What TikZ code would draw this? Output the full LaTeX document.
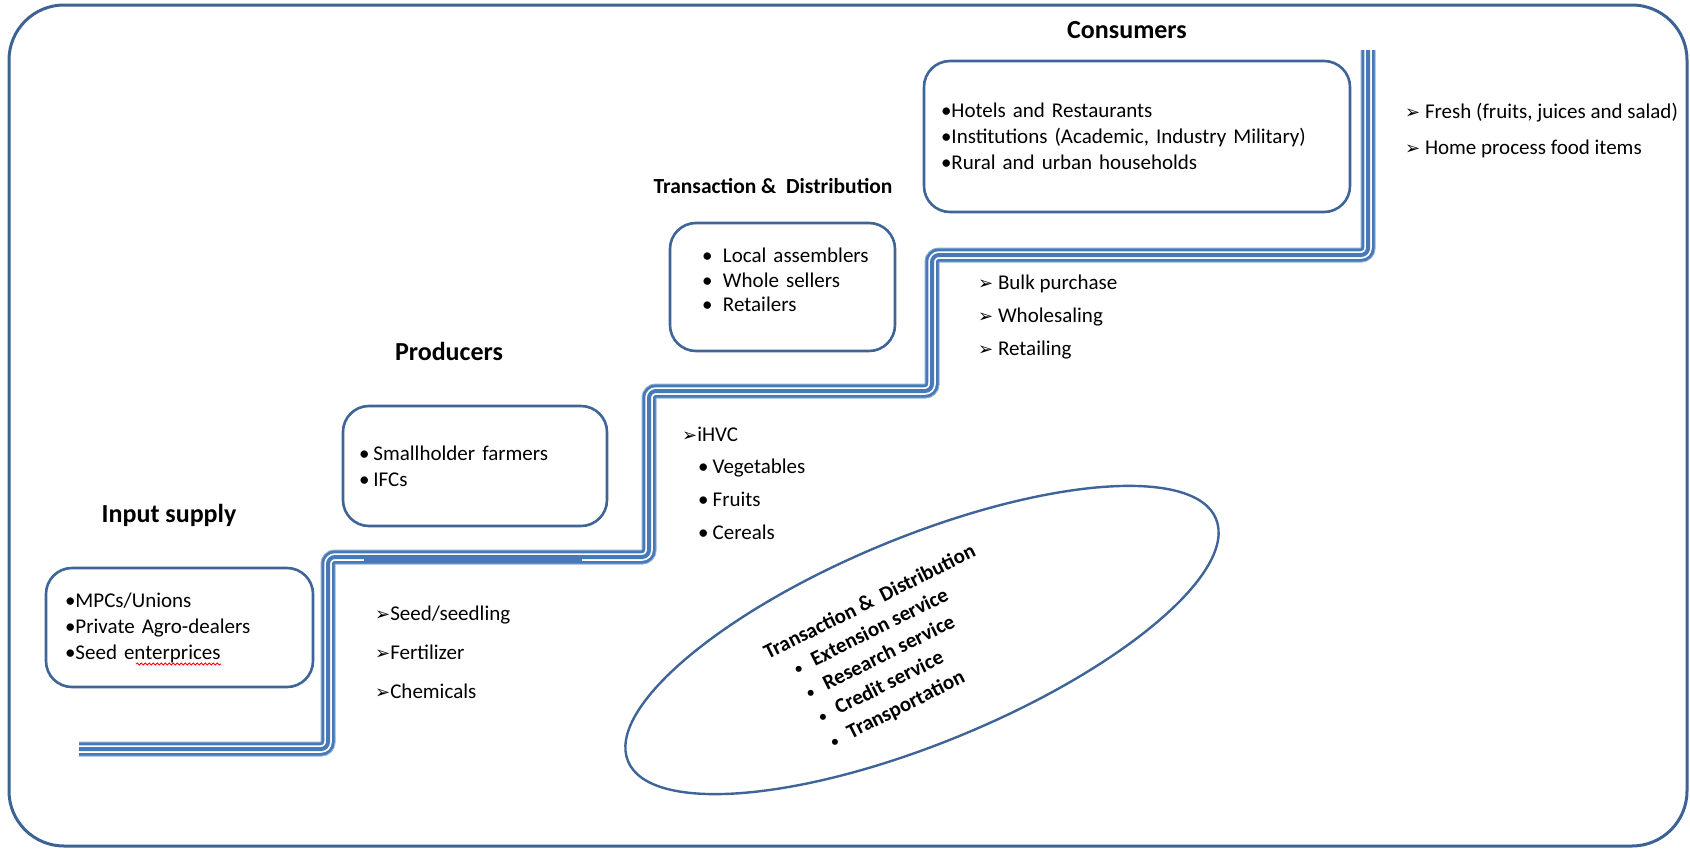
\documentclass[tikz,border=0pt]{standalone}
\usepackage{fontspec}
\setmainfont{Carlito}
\newfontfamily\dingfont{DejaVu Sans}
\usetikzlibrary{shapes.geometric,decorations.pathmorphing}
\definecolor{frameblue}{HTML}{3D6294}
\definecolor{boxblue}{HTML}{3F6497}
\definecolor{railblue}{HTML}{4779B8}
\definecolor{raillight}{HTML}{8FAED8}
% small arrowhead used in front of the list items
\newcommand{\tip}{{\dingfont\fontsize{18}{18}\selectfont ➢}}
\newcommand{\svcdot}{{\mdseries\fontsize{17}{17}\selectfont•}}
\begin{document}
\begin{tikzpicture}[x=1pt,y=-1pt,
  body/.style={font=\fontsize{21}{26}\selectfont},
  heading/.style={font=\fontsize{26}{30}\selectfont\bfseries, anchor=base, inner sep=0pt},
  card/.style={draw=boxblue, line width=2.6pt, rounded corners=26pt, align=left, body},
  rail/.style={line width=15pt, draw=raillight, rounded corners=7pt,
     postaction={draw=railblue, line width=13pt},
     postaction={draw=white, line width=7.5pt},
     postaction={draw=railblue, line width=4pt}},
  list/.style={body, align=left, anchor=west, inner sep=0pt},
]
\useasboundingbox (0,0) rectangle (1690,849);

% outer frame
\draw[frameblue, line width=3pt, rounded corners=55pt] (9,5) rectangle (1687,846);

% the staircase
\draw[rail] (79,749) -- (328,749) -- (328,557) -- (649,557) -- (649,391)
  -- (932,391) -- (932,255) -- (1368,255) -- (1368,50);
\draw[railblue, line width=4pt] (364,560) -- (582,560);

% stage boxes
\node[card, text width=229pt, inner xsep=19pt, minimum height=119pt] (inp) at (179.5,627.5)
  {•MPCs/Unions\\•Private Agro-dealers\\•Seed enterprices};
\node[card, text width=232pt, inner xsep=16pt, minimum height=120pt] (prod) at (475,466)
  {•\hspace{4pt}Smallholder farmers\\•\hspace{4pt}IFCs};
\node[card, minimum width=225pt, minimum height=128pt] (trade) at (782.5,287) {};
\node[list, anchor=center, font=\fontsize{21}{24.5}\selectfont, text width=201pt, yshift=7pt]
  (tradetext) at (trade.center)
  {\hspace*{20pt}\makebox[21pt][l]{•}Local assemblers\\\hspace*{20pt}\makebox[21pt][l]{•}Whole sellers\\\hspace*{20pt}\makebox[21pt][l]{•}Retailers};
\node[card, text width=392pt, inner xsep=17pt, minimum height=151pt] (cons) at (1137,136.5)
  {•Hotels and Restaurants\\•Institutions (Academic, Industry Military)\\•Rural and urban households};

% spell-check underline
\draw[red, line width=0.8pt, decorate, decoration={snake, amplitude=1.1pt, segment length=4pt}]
  (136,664) -- (221,664);

% stage headings
\node[heading] (tinp) at (169,522) {Input supply};
\node[heading] (tprod) at (449,360) {Producers};
\node[heading, font=\fontsize{21.5}{26}\selectfont\bfseries] (ttrade) at (773,193) {Transaction \&\ \ Distribution};
\node[heading] (tcons) at (1127,38) {Consumers};

% flows between the stages
\node[list, font=\fontsize{21}{39}\selectfont] (inputs) at (375,652)
  {\tip Seed/seedling\\\tip Fertilizer\\\tip Chemicals};
\node[list, font=\fontsize{21}{32.7}\selectfont] (crops) at (682,483)
  {\tip iHVC\\\hspace*{16pt}•\hspace{4pt}Vegetables\\\hspace*{16pt}•\hspace{4pt}Fruits\\\hspace*{16pt}•\hspace{4pt}Cereals};
\node[list, font=\fontsize{21}{33}\selectfont] (deals) at (978,317)
  {\tip\ Bulk purchase\\\tip\ Wholesaling\\\tip\ Retailing};
\node[list, font=\fontsize{21}{36}\selectfont] (uses) at (1405,131)
  {\tip\ Fresh (fruits, juices and salad)\\\tip\ Home process food items};

% support services
\node[draw=boxblue, line width=2.4pt, ellipse, minimum width=636pt, minimum height=206pt,
  rotate=22.4] (svc) at (922,640) {};
\node[font=\fontsize{21}{27}\selectfont\bfseries, align=left, rotate=26.5, inner sep=0pt]
  (svctext) at (894,651)
  {Transaction \&\ \ Distribution\\
   \hspace*{19pt}\makebox[20pt][l]{\svcdot}Extension service\\
   \hspace*{19pt}\makebox[20pt][l]{\svcdot}Research service\\
   \hspace*{19pt}\makebox[20pt][l]{\svcdot}Credit service\\
   \hspace*{19pt}\makebox[20pt][l]{\svcdot}Transportation};
\end{tikzpicture}
\end{document}
